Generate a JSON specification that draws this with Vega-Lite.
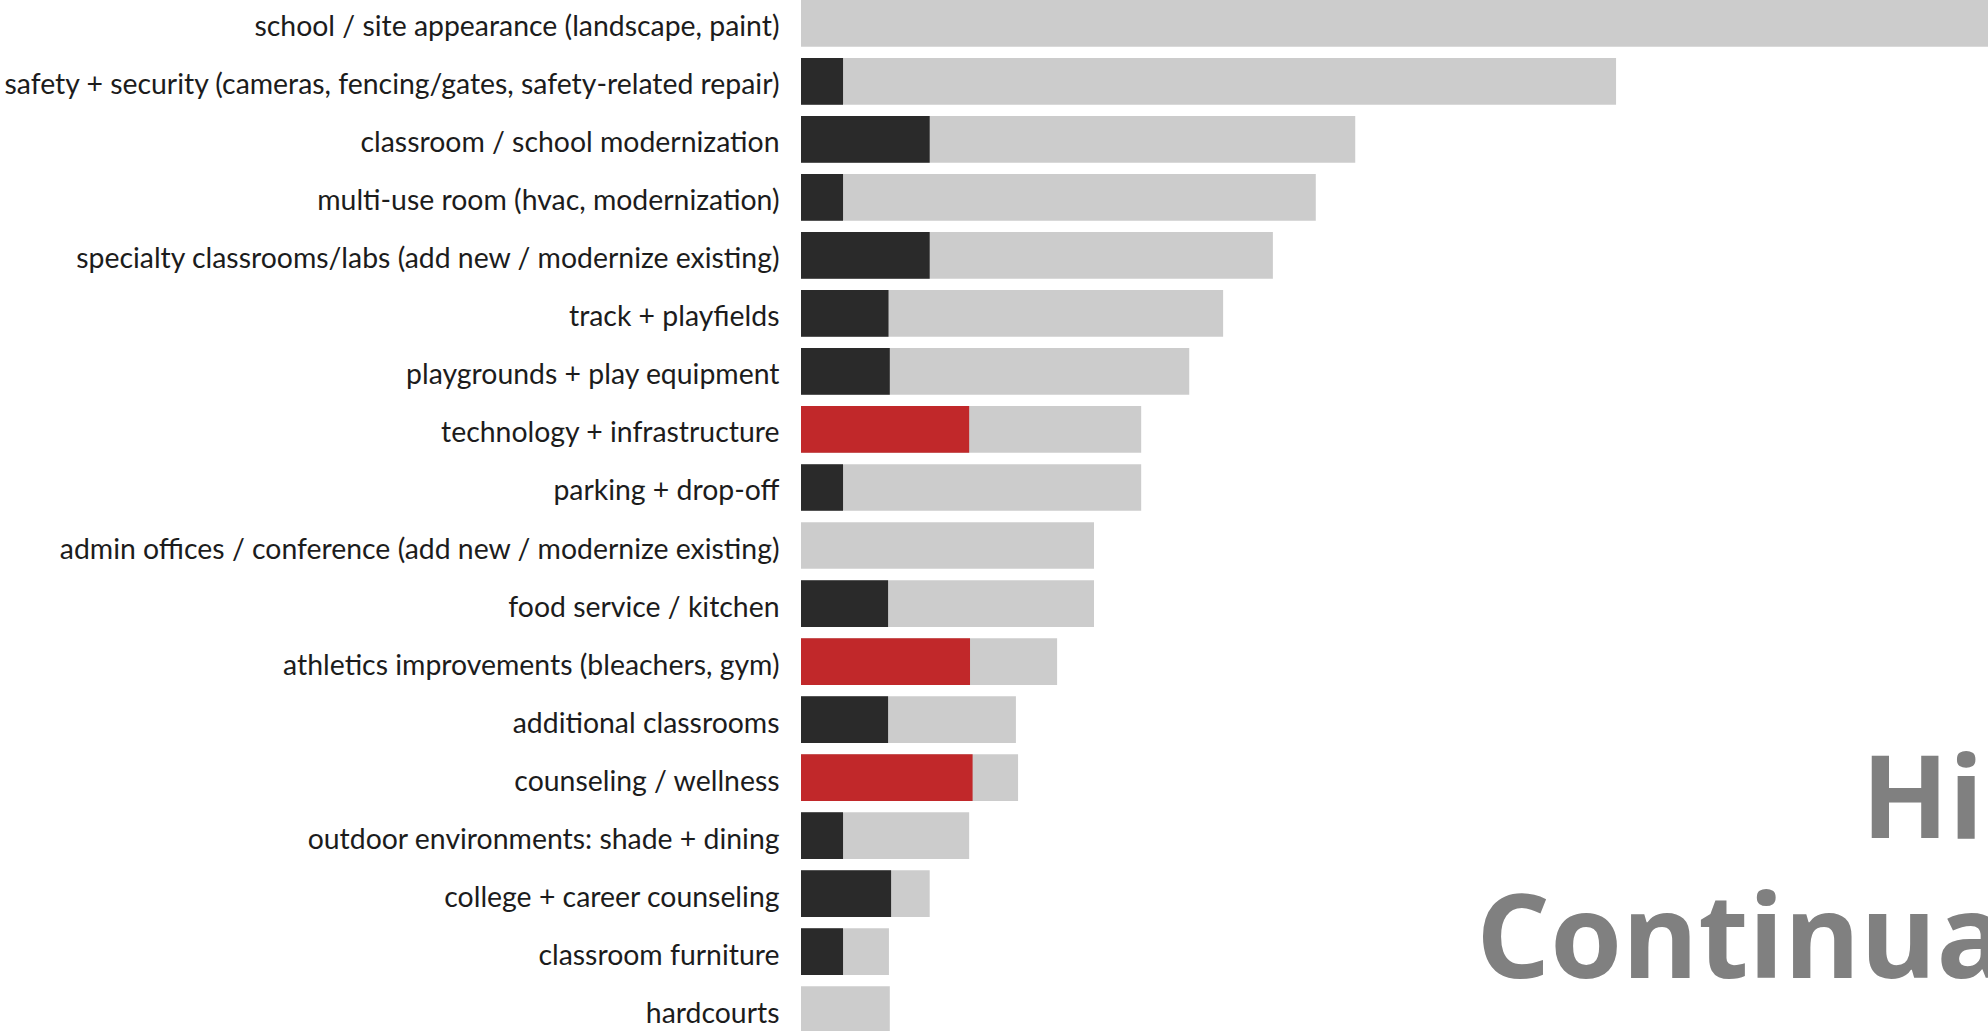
{
  "$schema": "https://vega.github.io/schema/vega-lite/v6.json",
  "width": 1187,
  "height": 1033,
  "autosize": "none",
  "padding": {"left": 801, "top": 0, "right": 0, "bottom": 0},
  "background": "white",
  "config": {
    "view": {"stroke": null},
    "axis": {"title": null, "grid": false}
  },
  "data": {
    "values": [
      {"item": "school / site appearance (landscape, paint)", "total": 28, "subset": 0, "group": "none"},
      {"item": "safety + security (cameras, fencing/gates, safety-related repair)", "total": 19.0, "subset": 0.98, "group": "dark"},
      {"item": "classroom / school modernization", "total": 12.92, "subset": 3.0, "group": "dark"},
      {"item": "multi-use room (hvac, modernization)", "total": 12.0, "subset": 0.98, "group": "dark"},
      {"item": "specialty classrooms/labs (add new / modernize existing)", "total": 11.0, "subset": 3.0, "group": "dark"},
      {"item": "track + playfields", "total": 9.84, "subset": 2.04, "group": "dark"},
      {"item": "playgrounds + play equipment", "total": 9.05, "subset": 2.07, "group": "dark"},
      {"item": "technology + infrastructure", "total": 7.93, "subset": 3.92, "group": "red"},
      {"item": "parking + drop-off", "total": 7.93, "subset": 0.98, "group": "dark"},
      {"item": "admin offices / conference (add new / modernize existing)", "total": 6.83, "subset": 0, "group": "none"},
      {"item": "food service / kitchen", "total": 6.83, "subset": 2.03, "group": "dark"},
      {"item": "athletics improvements (bleachers, gym)", "total": 5.97, "subset": 3.94, "group": "red"},
      {"item": "additional classrooms", "total": 5.01, "subset": 2.03, "group": "dark"},
      {"item": "counseling / wellness", "total": 5.06, "subset": 4.0, "group": "red"},
      {"item": "outdoor environments: shade + dining", "total": 3.92, "subset": 0.98, "group": "dark"},
      {"item": "college + career counseling", "total": 3.0, "subset": 2.1, "group": "dark"},
      {"item": "classroom furniture", "total": 2.05, "subset": 0.98, "group": "dark"},
      {"item": "hardcourts", "total": 2.07, "subset": 0, "group": "none"}
    ]
  },
  "encoding": {
    "y": {
      "field": "item",
      "type": "nominal",
      "sort": null,
      "scale": {"paddingInner": 0.195, "paddingOuter": 0},
      "axis": {
        "domain": false,
        "ticks": false,
        "labelPadding": 22,
        "labelFont": "Lato",
        "labelFontSize": 28.4,
        "labelColor": "#1c1c1c",
        "labelLimit": 0,
        "labelOffset": 4
      }
    }
  },
  "layer": [
    {
      "mark": {"type": "bar", "color": "#cccccc", "clip": true},
      "encoding": {
        "x": {"field": "total", "type": "quantitative", "scale": {"domain": [0, 27.67], "nice": false, "zero": true}, "axis": null}
      }
    },
    {
      "transform": [{"filter": "datum.subset > 0"}],
      "mark": {"type": "bar", "clip": true},
      "encoding": {
        "x": {"field": "subset", "type": "quantitative", "axis": null},
        "color": {"field": "group", "type": "nominal", "scale": {"domain": ["dark", "red"], "range": ["#2a2a2a", "#c1282a"]}, "legend": null}
      }
    },
    {
      "data": {"values": [{"label": "Hi"}]},
      "mark": {"type": "text", "align": "left", "baseline": "alphabetic", "font": "Open Sans", "fontWeight": 700, "fontSize": 114, "color": "#808080", "dy": 2},
      "encoding": {
        "x": {"datum": 24.72, "type": "quantitative"},
        "y": {"datum": "outdoor environments: shade + dining"},
        "text": {"field": "label"}
      }
    },
    {
      "data": {"values": [{"label": "Continua"}]},
      "mark": {"type": "text", "align": "left", "baseline": "alphabetic", "font": "Open Sans", "fontWeight": 700, "fontSize": 116, "color": "#808080", "dy": 3},
      "encoding": {
        "x": {"datum": 15.74, "type": "quantitative"},
        "y": {"datum": "classroom furniture", "bandPosition": 1},
        "text": {"field": "label"}
      }
    }
  ]
}
